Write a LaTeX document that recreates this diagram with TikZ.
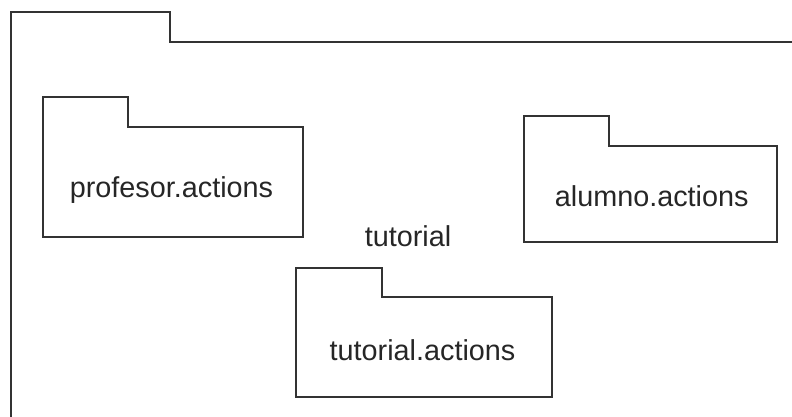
\documentclass[tikz,border=0pt]{standalone}
\usepackage{fontspec}
\setmainfont{Liberation Sans}
\begin{document}
\begin{tikzpicture}[x=1pt,y=-1pt,
  pkg/.style={draw=black!80, line width=1.5pt, line join=miter},
  lbl/.style={font=\fontsize{28.8}{34}\selectfont, text=black!85, inner sep=0pt, anchor=base}]
\useasboundingbox (0,0) rectangle (792,416);
\clip (0,0) rectangle (792,416);
% outer package (cropped)
\draw[pkg] (11,420) -- (11,12) -- (170,12) -- (170,42) -- (796,42);
\node[lbl] (outerlbl) at (408,246) {tutorial};
% profesor.actions
\draw[pkg] (43,237) -- (43,97) -- (128,97) -- (128,127) -- (303,127) -- (303,237) -- cycle;
\node[lbl] (prof) at (171.5,197) {profesor.actions};
% alumno.actions
\draw[pkg] (524,242) -- (524,116) -- (609,116) -- (609,146) -- (777,146) -- (777,242) -- cycle;
\node[lbl] (alum) at (651.7,206.5) {alumno.actions};
% tutorial.actions
\draw[pkg] (296,397) -- (296,268) -- (382,268) -- (382,297) -- (552,297) -- (552,397) -- cycle;
\node[lbl] (tut) at (422.5,360) {tutorial.actions};
\end{tikzpicture}
\end{document}
